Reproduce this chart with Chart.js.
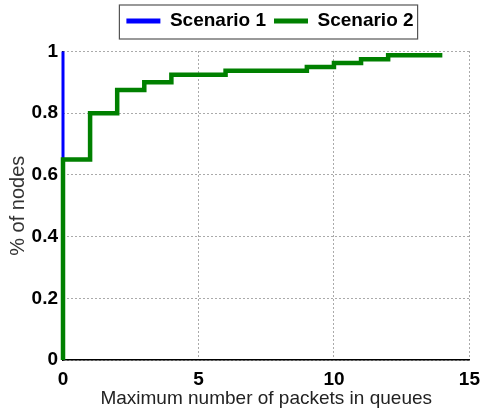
<!DOCTYPE html>
<html>
<head>
<meta charset="utf-8">
<script src="https://cdn.jsdelivr.net/npm/chart.js@4.4.1/dist/chart.umd.min.js"></script>
<style>
  html, body { margin: 0; padding: 0; background: #fff; }
</style>
</head>
<body>
<canvas id="myChart" width="488" height="412"></canvas>
<script>
// データ
const seriesNames = ['Scenario 1', 'Scenario 2'];
const s1X = [0, 0];
const s1Y = [0, 1];
const s2X = [0, 0, 1, 2, 3, 4, 6, 9, 10, 11, 12, 14];
const s2Y = [0, 0.65, 0.8, 0.875, 0.9, 0.925, 0.9375, 0.95, 0.9625, 0.975, 0.9875, 0.9875];
const xTitle = 'Maximum number of packets in queues';
const yTitle = '% of nodes';

const FONT = '"Liberation Sans", Arial, sans-serif';

function toPoints(xs, ys) {
    return xs.map((x, i) => ({x: x, y: ys[i]}));
}

// 凡例を右へずらして枠を描く
const legendBox = {
    id: 'legendBox',
    afterLayout(chart) {
        const lg = chart.legend;
        const dx = 270 - (lg.left + lg.right) / 2;
        lg.left += dx;
        lg.right += dx;
    },
    afterDraw(chart) {
        const hb = chart.legend.legendHitBoxes;
        if (!hb || !hb.length) return;
        const first = hb[0];
        const last = hb[hb.length - 1];
        const ctx = chart.ctx;
        ctx.save();
        ctx.strokeStyle = '#555';
        ctx.lineWidth = 1.2;
        ctx.strokeRect(first.left - 7, first.top - 6.5, last.left + last.width + 4 - (first.left - 7), first.height + 15);
        ctx.restore();
    }
};

const ctx = document.getElementById('myChart').getContext('2d');
const myChart = new Chart(ctx, {
    type: 'line',
    data: {
        datasets: [{
            label: seriesNames[0],
            data: toPoints(s1X, s1Y),
            borderColor: '#0000ff',
            backgroundColor: '#0000ff',
            borderWidth: 3,
            pointRadius: 0,
            clip: false,
            order: 1
        },
        {
            label: seriesNames[1],
            data: toPoints(s2X, s2Y),
            borderColor: '#008000',
            backgroundColor: '#008000',
            borderWidth: 4.5,
            pointRadius: 0,
            stepped: 'before',
            clip: false,
            order: 0
        }]
    },
    options: {
        responsive: false,
        animation: false,
        layout: { padding: {top: 3.5, right: 13, bottom: 0, left: 0} },
        plugins: {
            tooltip: { enabled: false },
            legend: {
                position: 'top',
                labels: {
                    usePointStyle: true,
                    pointStyle: 'line',
                    pointStyleWidth: 34,
                    padding: 8,
                    color: '#000',
                    font: { family: FONT, size: 19, weight: 'bold' },
                    sort: (a, b) => a.datasetIndex - b.datasetIndex,
                    generateLabels: function(chart) {
                        const items = Chart.defaults.plugins.legend.labels.generateLabels(chart);
                        items.forEach(it => { it.lineWidth = 5; });
                        return items;
                    }
                }
            },
            // 凡例とグラフの間のすき間
            title: {
                display: true,
                text: '',
                weight: 500,
                font: { size: 1, lineHeight: 1 },
                padding: { top: 0, bottom: 10 }
            }
        },
        scales: {
            x: {
                type: 'linear',
                min: 0,
                max: 15,
                ticks: {
                    stepSize: 5,
                    padding: 8,
                    color: '#000',
                    font: { family: FONT, size: 19, weight: 'bold' }
                },
                grid: { color: '#555', lineWidth: 1, drawTicks: false },
                border: { display: true, color: '#000', width: 1.5, dash: [1, 3] },
                title: {
                    display: true,
                    text: xTitle,
                    color: '#222',
                    font: { family: FONT, size: 19 },
                    padding: { top: 0, bottom: 2 }
                },
                afterFit: function(scale) { scale.height = 52; }
            },
            y: {
                min: 0,
                max: 1,
                ticks: {
                    stepSize: 0.2,
                    padding: 5,
                    color: '#000',
                    font: { family: FONT, size: 19, weight: 'bold' },
                    callback: v => String(Math.round(v * 10) / 10)
                },
                grid: { color: '#555', lineWidth: 1, drawTicks: false },
                border: { display: true, color: '#000', width: 1.5, dash: [1, 3] },
                title: {
                    display: true,
                    text: yTitle,
                    color: '#333',
                    font: { family: FONT, size: 20 },
                    padding: { top: 6, bottom: 0 }
                },
                afterFit: function(scale) { scale.width = 63; }
            }
        }
    },
    plugins: [legendBox]
});
</script>
</body>
</html>
